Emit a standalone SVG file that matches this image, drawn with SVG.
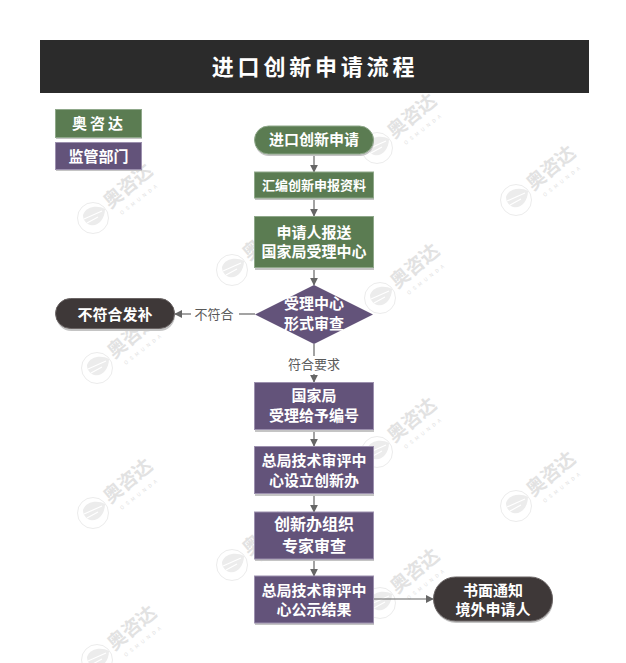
<svg xmlns="http://www.w3.org/2000/svg" xmlns:xlink="http://www.w3.org/1999/xlink" width="626" height="663" viewBox="0 0 626 663">
<style>
text{font-family:"Noto Sans CJK SC","Noto Sans",sans-serif;text-anchor:middle}
.t{fill:#fff;font-size:15px;font-weight:700}
.b{fill:#fff;font-size:16px;font-weight:700}
.l{fill:#595959;font-size:13px}
.g{fill:#5b7c52;stroke:#8fa88a;stroke-width:1}
.p{fill:#63537a;stroke:#9c90ae;stroke-width:1}
.d{fill:#3e3838;stroke:#6a6464;stroke-width:1}
.s{fill:#c4c4c4}
.c{fill:none;stroke:#666;stroke-width:1.2}
.wt{fill:#e2e2e2;font-size:19px;font-weight:700}
.wo{fill:#e2e2e2;font-size:5px;letter-spacing:3.500px}
</style>
<defs>
<marker id="a" viewBox="0 0 10 10" refX="9" refY="5" markerWidth="8" markerHeight="8" markerUnits="userSpaceOnUse" orient="auto"><path d="M0 0L10 5L0 10Z" fill="#666"/></marker>
<g id="wm">
<circle cx="0" cy="0" r="15.5" fill="none" stroke="#ececec" stroke-width="1"/>
<path d="M-10 -3C-7 -12 5 -13 12 -9C12 1 5 9 -3 7C-8 5 -10 1 -10 -3Z" fill="#ececec"/>
<path d="M-9 1L9 -7M-6 5L5 -1" stroke="#fff" stroke-width="1.2" fill="none"/>
<text class="wt" transform="translate(39,-27) rotate(-40)">奥咨达</text>
<text class="wo" transform="translate(48,-18) rotate(-38)">OSMUNDA</text>
</g>
</defs>
<g id="watermarks">
<use xlink:href="#wm" x="93" y="218"/>
<use xlink:href="#wm" x="377" y="148"/>
<use xlink:href="#wm" x="516" y="200"/>
<use xlink:href="#wm" x="232" y="270"/>
<use xlink:href="#wm" x="380" y="298"/>
<use xlink:href="#wm" x="97" y="368"/>
<use xlink:href="#wm" x="377" y="452"/>
<use xlink:href="#wm" x="516" y="506"/>
<use xlink:href="#wm" x="93" y="513"/>
<use xlink:href="#wm" x="232" y="565"/>
<use xlink:href="#wm" x="380" y="603"/>
<use xlink:href="#wm" x="97" y="660"/>
</g>
<g id="header"><rect x="40" y="40" width="549" height="53" fill="#2b2b2b"/><text x="315" y="75" fill="#fff" font-size="22" font-weight="700" letter-spacing="3.8">进口创新申请流程</text></g>
<g id="legend-osmunda"><rect class="s" x="56" y="110" width="86" height="29"/><rect class="g" x="55.5" y="109.5" width="86" height="28"/><text class="t" x="99" y="129" letter-spacing="3">奥咨达</text></g>
<g id="legend-regulator"><rect class="s" x="56" y="143" width="86" height="28"/><rect class="p" x="55.5" y="142.500" width="86" height="27"/><text class="t" x="98.500" y="162">监管部门</text></g>
<g id="connectors">
<path class="c" marker-end="url(#a)" d="M314 154V172"/>
<path class="c" marker-end="url(#a)" d="M314 198V216"/>
<path class="c" marker-end="url(#a)" d="M314 268V285"/>
<path class="c" d="M255 314H239"/>
<path class="c" marker-end="url(#a)" d="M191 314H175"/>
<path class="c" d="M314 344V356"/>
<path class="c" marker-end="url(#a)" d="M314 374V382"/>
<path class="c" marker-end="url(#a)" d="M314 430V446"/>
<path class="c" marker-end="url(#a)" d="M314 494V512"/>
<path class="c" marker-end="url(#a)" d="M314 559V576"/>
<path class="c" marker-end="url(#a)" d="M374 599H433"/>
</g>
<text class="l" x="214" y="319">不符合</text>
<text class="l" x="314" y="369">符合要求</text>
<g id="n-start"><rect class="s" x="255" y="127" width="119" height="29" rx="14"/><rect class="g" x="254.500" y="126" width="119" height="28" rx="14"/><text class="t" x="314" y="145">进口创新申请</text></g>
<g id="n-compile"><rect class="s" x="255" y="173" width="119" height="27"/><rect class="g" x="254.500" y="172" width="119" height="26"/><text class="t" x="314" y="190" style="font-size:13px">汇编创新申报资料</text></g>
<g id="n-submit"><rect class="s" x="255" y="217" width="119" height="53"/><rect class="g" x="254.500" y="216.500" width="119" height="51"/><text class="t" x="314" y="238">申请人报送</text><text class="t" x="314" y="257">国家局受理中心</text></g>
<g id="n-review"><path d="M314 285L373 314.500L314 344L255 314.500Z" fill="#63537a"/><text class="t" x="314" y="309">受理中心</text><text class="t" x="314" y="329">形式审查</text></g>
<g id="n-reject"><rect class="s" x="56" y="300" width="119" height="31" rx="15.500"/><rect class="d" x="55.500" y="298.500" width="119" height="30" rx="15"/><text class="t" x="115" y="320">不符合发补</text></g>
<g id="n-number"><rect class="s" x="255" y="383" width="119" height="49"/><rect class="p" x="254.500" y="382.500" width="119" height="47"/><text class="t" x="314" y="401">国家局</text><text class="t" x="314" y="421">受理给予编号</text></g>
<g id="n-office"><rect class="s" x="255" y="447" width="119" height="49"/><rect class="p" x="254.500" y="446.500" width="119" height="47"/><text class="t" x="314" y="466">总局技术审评中</text><text class="t" x="314" y="486">心设立创新办</text></g>
<g id="n-expert"><rect class="s" x="255" y="513" width="119" height="48"/><rect class="p" x="254.500" y="512" width="119" height="47"/><text class="b" x="314" y="530">创新办组织</text><text class="b" x="314" y="552">专家审查</text></g>
<g id="n-publish"><rect class="s" x="255" y="577" width="119" height="48"/><rect class="p" x="254.500" y="576" width="119" height="47"/><text class="t" x="314" y="596">总局技术审评中</text><text class="t" x="314" y="615">心公示结果</text></g>
<g id="n-notify"><rect class="s" x="434" y="579" width="119" height="44" rx="22"/><rect class="d" x="433.500" y="577" width="119" height="44" rx="22"/><text class="t" x="493" y="596">书面通知</text><text class="t" x="493" y="615">境外申请人</text></g>
</svg>
